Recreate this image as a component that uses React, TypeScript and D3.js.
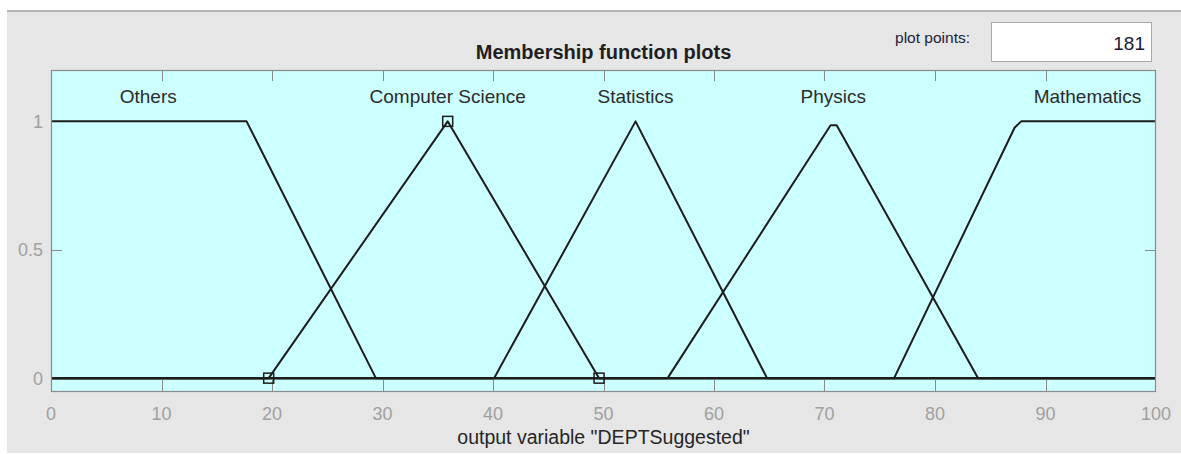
import React from 'react';
import * as d3 from 'd3';

// membership functions of output variable "DEPTSuggested"
const mfNames = ['Others', 'Computer Science', 'Statistics', 'Physics', 'Mathematics'];
const mfX = [
  [0, 17.7, 29.4, 100],
  [0, 19.7, 35.9, 49.6, 100],
  [0, 40.1, 52.9, 64.8, 100],
  [0, 55.8, 70.55, 71.1, 83.9, 100],
  [0, 76.3, 87.2, 87.8, 100],
];
const mfY = [
  [1, 1, 0, 0],
  [0, 0, 1, 0, 0],
  [0, 0, 1, 0, 0],
  [0, 0, 0.985, 0.985, 0, 0],
  [0, 0, 0.975, 1, 1],
];
const labelX = [8.8, 35.9, 52.9, 70.8, 93.8];
const selected = 1;

const xTicks = [0, 10, 20, 30, 40, 50, 60, 70, 80, 90, 100];
const yTicks = [0, 0.5, 1];
const yTickLabels = ['0', '0.5', '1'];

const W = 1181;
const H = 454;
const left = 51;
const right = 1156;
const top = 70;
const bottom = 391;
const tickLen = 11;
const font = '"Liberation Sans", Arial, sans-serif';

export default function App() {
  const x = d3.scaleLinear().domain([0, 100]).range([left, right]);
  const y = d3.scaleLinear().domain([-0.05, 1.2]).range([bottom, top]);

  const paths = mfX.map((xs, k) => {
    const pts = xs.map((v, i) => [v, mfY[k][i]] as [number, number]);
    return d3.line<[number, number]>()
      .x(d => x(d[0]))
      .y(d => y(d[1]))(pts);
  });

  const markers = mfX[selected]
    .map((v, i) => [v, mfY[selected][i]])
    .filter(d => d[0] > 0 && d[0] < 100);

  return (
    <svg
      width={W}
      height={H}
      style={{ position: 'absolute', left: 0, top: 0, display: 'block' }}
      fontFamily={font}
    >
      <rect x={0} y={0} width={W} height={H} fill="#ffffff" />
      <rect x={7} y={11} width={W - 7} height={442} fill="#e6e6e6" />
      <line x1={7} x2={W} y1={11} y2={11} stroke="#a0a0a0" strokeWidth={1.5} />

      {/* plot points box */}
      <text x={970} y={43} fontSize={15.5} fill="#22223a" textAnchor="end">plot points:</text>
      <rect x={991.5} y={22.5} width={160} height={39} fill="#ffffff" stroke="#a8a8a8" strokeWidth={1} />
      <text x={1145} y={50} fontSize={19} fill="#1a1a33" textAnchor="end">181</text>

      <text x={(left + right) / 2} y={59} fontSize={20} fontWeight="bold" fill="#1f1f1f" textAnchor="middle">
        Membership function plots
      </text>

      <rect x={left} y={top} width={right - left} height={bottom - top} fill="#ccffff" />

      {xTicks.slice(1, -1).map(t => (
        <g key={'xt' + t} stroke="#8a8a8a" strokeWidth={1}>
          <line x1={Math.round(x(t)) + 0.5} x2={Math.round(x(t)) + 0.5} y1={bottom} y2={bottom - tickLen} />
          <line x1={Math.round(x(t)) + 0.5} x2={Math.round(x(t)) + 0.5} y1={top} y2={top + tickLen} />
        </g>
      ))}
      {yTicks.map(t => (
        <g key={'yt' + t} stroke="#8a8a8a" strokeWidth={1}>
          <line x1={left} x2={left + tickLen} y1={Math.round(y(t)) + 0.5} y2={Math.round(y(t)) + 0.5} />
          <line x1={right} x2={right - tickLen} y1={Math.round(y(t)) + 0.5} y2={Math.round(y(t)) + 0.5} />
        </g>
      ))}

      {paths.map((d, k) => (
        <path key={'mf' + k} d={d || ''} fill="none" stroke="#1c1c1c" strokeWidth={2} strokeLinejoin="round" />
      ))}

      {markers.map((d, i) => (
        <rect
          key={'m' + i}
          x={x(d[0]) - 5}
          y={y(d[1]) - 5}
          width={10}
          height={10}
          fill="none"
          stroke="#1c1c1c"
          strokeWidth={1.5}
        />
      ))}

      {mfNames.map((n, k) => (
        <text key={'lb' + k} x={x(labelX[k])} y={103} fontSize={19} fill="#2b2b2b" textAnchor="middle">
          {n}
        </text>
      ))}

      <rect x={left + 0.5} y={top + 0.5} width={right - left - 1} height={bottom - top} fill="none" stroke="#8a8a8a" strokeWidth={1.2} />

      {xTicks.map(t => (
        <text key={'xl' + t} x={x(t)} y={420} fontSize={18} fill="#a0a0a0" textAnchor="middle">
          {t}
        </text>
      ))}
      {yTicks.map((t, i) => (
        <text key={'yl' + t} x={43} y={y(t) + 6.5} fontSize={18} fill="#a0a0a0" textAnchor="end">
          {yTickLabels[i]}
        </text>
      ))}

      <text x={(left + right) / 2} y={444} fontSize={19.5} fill="#262626" textAnchor="middle">
        output variable "DEPTSuggested"
      </text>
    </svg>
  );
}
